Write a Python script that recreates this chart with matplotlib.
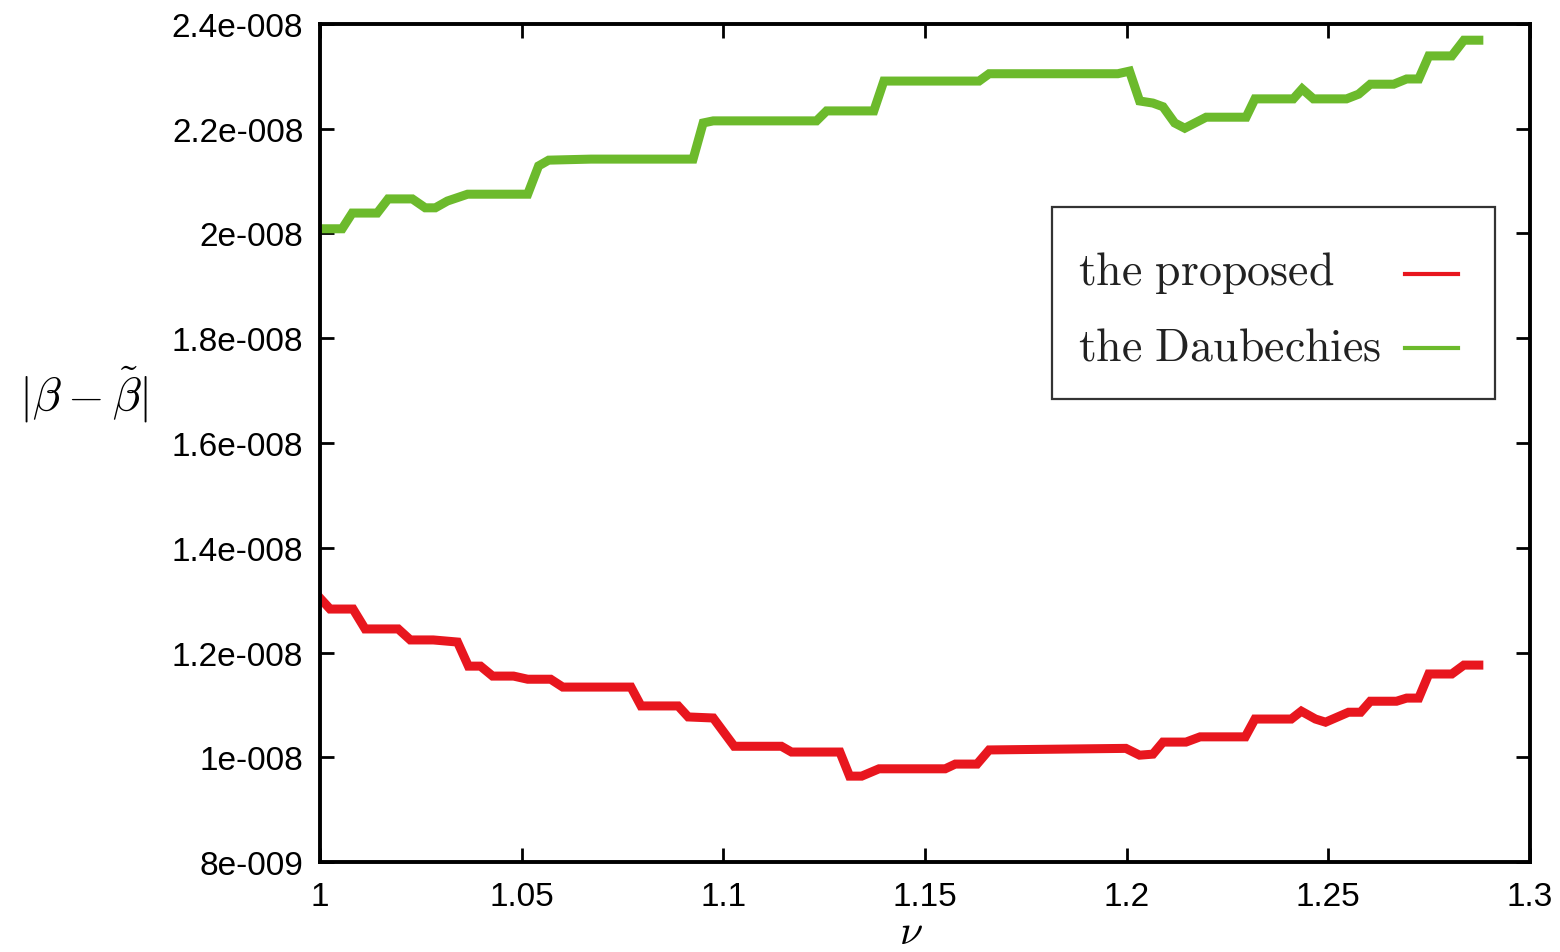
import matplotlib
matplotlib.use("Agg")
import matplotlib.pyplot as plt
from matplotlib.patches import Rectangle
from matplotlib.ticker import FuncFormatter, MultipleLocator

# nu values and errors (units of 1e-8)
nu_proposed = [1.0, 1.0025, 1.0082, 1.0112, 1.0194, 1.0224, 1.0281, 1.0341, 1.0368, 1.0398,
               1.0428, 1.048, 1.0515, 1.0572, 1.0602, 1.0771, 1.0796, 1.0888, 1.0913, 1.0975,
               1.1027, 1.1144, 1.1169, 1.1289, 1.1313, 1.1343, 1.1386, 1.155, 1.1575, 1.1629,
               1.1659, 1.1998, 1.2032, 1.2065, 1.209, 1.2147, 1.2182, 1.2294, 1.2318, 1.2408,
               1.2433, 1.2468, 1.2493, 1.255, 1.258, 1.2604, 1.2669, 1.2694, 1.2724, 1.2749,
               1.2806, 1.2836, 1.2873]
err_proposed = [1.304, 1.283, 1.283, 1.245, 1.245, 1.224, 1.224, 1.220, 1.174, 1.174,
                1.155, 1.155, 1.149, 1.149, 1.134, 1.134, 1.098, 1.098, 1.077, 1.075,
                1.021, 1.021, 1.010, 1.010, 0.964, 0.964, 0.978, 0.978, 0.987, 0.987,
                1.014, 1.017, 1.004, 1.006, 1.029, 1.029, 1.039, 1.039, 1.073, 1.073,
                1.088, 1.073, 1.067, 1.086, 1.086, 1.107, 1.107, 1.113, 1.113, 1.159,
                1.159, 1.176, 1.176]

nu_daub = [1.0, 1.0055, 1.008, 1.0142, 1.0169, 1.0229, 1.0261, 1.0286, 1.0316, 1.0366,
           1.0515, 1.0542, 1.0567, 1.0672, 1.0925, 1.095, 1.0975, 1.1231, 1.1256, 1.1373,
           1.1398, 1.1634, 1.1659, 1.1978, 1.2007, 1.2032, 1.2065, 1.209, 1.2119, 1.2144,
           1.2197, 1.2296, 1.2318, 1.2413, 1.2435, 1.2463, 1.2545, 1.2575, 1.2604, 1.2662,
           1.2694, 1.2724, 1.2749, 1.2806, 1.2836, 1.2873]
err_daub = [2.009, 2.009, 2.039, 2.039, 2.066, 2.066, 2.049, 2.049, 2.062, 2.075,
            2.075, 2.129, 2.140, 2.142, 2.142, 2.211, 2.215, 2.215, 2.234, 2.234,
            2.291, 2.291, 2.305, 2.305, 2.310, 2.253, 2.249, 2.242, 2.211, 2.201,
            2.222, 2.222, 2.257, 2.257, 2.276, 2.257, 2.257, 2.266, 2.285, 2.285,
            2.295, 2.295, 2.339, 2.339, 2.369, 2.369]

labels = ["the proposed", "the Daubechies"]
colors = ["#e8161e", "#6cba2c"]

plt.rcParams["mathtext.fontset"] = "cm"

fig = plt.figure(figsize=(15.6, 9.53), dpi=100)
ax = fig.add_axes([0.2051, 0.0944, 0.7757, 0.8794])

ax.plot(nu_proposed, [v * 1e-8 for v in err_proposed], color=colors[0], lw=6.5, solid_joinstyle="miter")
ax.plot(nu_daub, [v * 1e-8 for v in err_daub], color=colors[1], lw=6.5, solid_joinstyle="miter")

ax.set_xlim(1.0, 1.3)
ax.set_ylim(8e-9, 2.4e-8)
ax.xaxis.set_major_locator(MultipleLocator(0.05))
ax.yaxis.set_major_locator(MultipleLocator(2e-9))


def fmt_y(v, pos):
    # gnuplot-style exponent with three digits
    s = f"{v:g}"
    mant, exp = s.split("e")
    return f"{mant}e{exp[0]}{int(exp[1:]):03d}"


ax.yaxis.set_major_formatter(FuncFormatter(fmt_y))
ax.xaxis.set_major_formatter(FuncFormatter(lambda v, pos: f"{v:g}"))

ax.tick_params(direction="in", length=10, width=2, top=True, right=True,
               labelsize=24, pad=12)
ax.tick_params(axis="x", pad=14)
for lab in ax.get_xticklabels() + ax.get_yticklabels():
    lab.set_family("Liberation Sans")
for sp in ax.spines.values():
    sp.set_linewidth(2.8)

ax.set_xlabel(r"$\nu$", fontsize=30, va="center")
ax.xaxis.set_label_coords(0.488, -0.082)
ax.set_ylabel(r"$|\beta - \tilde{\beta}|$", fontsize=34, rotation=0, ha="center", va="center")
ax.yaxis.set_label_coords(-0.195, 0.558)

# legend box: text on the left, short line samples on the right
ax.add_patch(Rectangle((0.605, 0.5525), 0.366, 0.229, transform=ax.transAxes,
                       facecolor="white", edgecolor="#333333", lw=1.6, zorder=5))
text_y = [0.6897, 0.5998]
line_y = [0.7017, 0.6134]
for lab, col, ty, ly in zip(labels, colors, text_y, line_y):
    ax.text(0.6264, ty, r"$\mathrm{" + lab.replace(" ", r"\ ") + "}$", transform=ax.transAxes,
            fontsize=33, va="baseline", ha="left", color="#222222", zorder=6)
    ax.plot([0.8967, 0.9405], [ly, ly], transform=ax.transAxes, color=col, lw=3, zorder=6)

fig.savefig("out.png", dpi=100)
